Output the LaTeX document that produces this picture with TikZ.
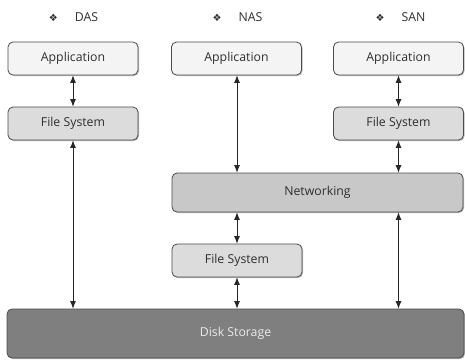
\documentclass[tikz,border=0pt]{standalone}
\usepackage{fontspec}
\setmainfont{Open Sans}
\newfontfamily\symfont{DejaVu Sans}
\usetikzlibrary{arrows.meta,shadows}
\definecolor{edge}{HTML}{4A4A4A}
\definecolor{appfill}{HTML}{F4F4F4}
\definecolor{fsfill}{HTML}{DCDCDC}
\definecolor{netfill}{HTML}{C8C8C8}
\definecolor{diskfill}{HTML}{7F7F7F}
\definecolor{txt}{HTML}{2E2E2E}
\newcommand{\bulletmark}{{\symfont\fontsize{10}{12}\selectfont ❖}\hspace{17pt}}
\tikzset{
  box/.style={draw=edge, line width=0.8pt, rounded corners=5pt, inner sep=0pt,
    minimum width=130pt, minimum height=33pt, text=txt,
    font=\fontsize{12.3}{14}\selectfont,
    drop shadow={shadow xshift=1pt, shadow yshift=-1pt, fill=black!45, opacity=0.6}},
  appbox/.style={box, fill=appfill},
  fsbox/.style={box, fill=fsfill},
  netbox/.style={box, fill=netfill, minimum width=291pt, minimum height=39pt},
  diskbox/.style={box, fill=diskfill, text=white!92!black, minimum width=457pt, minimum height=49pt},
  link/.style={line width=0.8pt, black!85, {Latex[length=7.5pt,width=6pt]}-{Latex[length=7.5pt,width=6pt]}},
  heading/.style={text=txt, font=\fontsize{12.3}{14}\selectfont}
}
\begin{document}
\begin{tikzpicture}[x=1pt, y=-1pt]
\useasboundingbox (0,0) rectangle (465,360);

% column headings
\node[heading] (hdas) at (73.5,17) {\bulletmark DAS};
\node[heading] (hnas) at (237.5,17) {\bulletmark NAS};
\node[heading] (hsan) at (400.5,17) {\bulletmark SAN};

% DAS column
\node[appbox] (dasapp) at (73,58.5) {Application};
\node[fsbox]  (dasfs)  at (73,123.5) {File System};

% NAS column
\node[appbox] (nasapp) at (236.5,58.5) {Application};
\node[netbox] (net)    at (317.5,192.5) {Networking};
\node[fsbox]  (nasfs)  at (237,260.5) {File System};

% SAN column
\node[appbox] (sanapp) at (398.5,58.5) {Application};
\node[fsbox]  (sanfs)  at (398.5,123.5) {File System};

% shared storage
\node[diskbox] (disk) at (235.5,333.5) {Disk Storage};

% DAS links
\draw[link] (dasapp.south) -- (dasfs.north);
\draw[link] (dasfs.south) -- (dasfs.south |- disk.north);

% NAS links
\draw[link] (nasapp.south -| nasfs.north) -- (nasfs.north |- net.north);
\draw[link] (nasfs.north |- net.south) -- (nasfs.north);
\draw[link] (nasfs.south) -- (nasfs.south |- disk.north);

% SAN links
\draw[link] (sanapp.south) -- (sanfs.north);
\draw[link] (sanfs.south) -- (sanfs.south |- net.north);
\draw[link] (sanfs.south |- net.south) -- (sanfs.south |- disk.north);
\end{tikzpicture}
\end{document}
